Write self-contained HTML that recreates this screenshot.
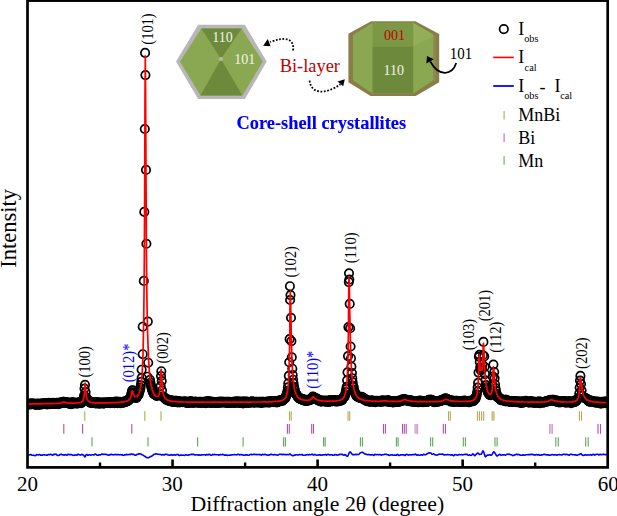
<!DOCTYPE html>
<html><head><meta charset="utf-8"><title>XRD</title>
<style>html,body{margin:0;padding:0;background:#fff}svg{display:block}text{font-family:"Liberation Serif","Times New Roman",serif}</style>
</head><body>
<svg width="617" height="516" viewBox="0 0 617 516">
<defs><marker id="m" markerUnits="userSpaceOnUse" markerWidth="12" markerHeight="12" refX="6" refY="6" viewBox="0 0 12 12"><circle cx="6" cy="6" r="4.2" fill="none" stroke="#000" stroke-width="1.7"/></marker><clipPath id="cp"><rect x="27.5" y="0" width="580.2" height="467"/></clipPath></defs>
<rect width="617" height="516" fill="#fff"/>
<!-- observed -->
<polyline clip-path="url(#cp)" points="27.7,404.0 28.1,403.8 28.6,404.1 29.0,404.3 29.4,404.1 29.9,404.4 30.3,403.9 30.7,403.3 31.2,404.1 31.6,404.2 32.0,403.7 32.5,403.7 32.9,403.8 33.3,404.3 33.8,403.9 34.2,403.6 34.7,404.5 35.1,404.1 35.5,404.7 36.0,404.4 36.4,404.7 36.8,403.9 37.3,404.4 37.7,403.7 38.1,403.7 38.6,403.9 39.0,404.9 39.4,404.0 39.9,403.8 40.3,403.7 40.7,404.5 41.2,404.0 41.6,404.2 42.0,404.1 42.5,403.3 42.9,404.1 43.4,403.8 43.8,403.3 44.2,404.0 44.7,403.8 45.1,403.7 45.5,403.7 46.0,404.3 46.4,403.7 46.8,403.1 47.3,404.4 47.7,403.3 48.1,403.6 48.6,403.9 49.0,402.7 49.4,403.3 49.9,404.2 50.3,403.6 50.8,403.4 51.2,403.7 51.6,403.3 52.1,403.6 52.5,403.3 52.9,402.9 53.4,403.9 53.8,403.5 54.2,403.7 54.7,403.5 55.1,404.0 55.5,403.8 56.0,403.6 56.4,403.1 56.8,402.9 57.3,404.0 57.7,403.7 58.1,403.1 58.6,404.2 59.0,403.5 59.5,403.3 59.9,402.6 60.3,402.8 60.8,403.2 61.2,403.1 61.6,403.0 62.1,402.0 62.5,402.7 62.9,402.4 63.4,401.8 63.8,401.9 64.2,402.0 64.7,402.6 65.1,402.3 65.5,402.7 66.0,402.1 66.4,402.5 66.9,402.9 67.3,402.6 67.7,403.1 68.2,402.6 68.6,403.1 69.0,402.8 69.5,403.7 69.9,403.0 70.3,403.9 70.8,404.1 71.2,403.3 71.6,403.6 72.1,403.1 72.5,402.1 72.9,403.5 73.4,403.4 73.8,403.0 74.2,402.9 74.7,403.2 75.1,403.2 75.6,402.8 76.0,402.8 76.4,403.5 76.9,403.1 77.3,403.0 77.7,403.4 78.2,402.8 78.6,403.2 79.0,402.4 79.5,402.6 79.9,402.6 80.3,402.8 80.8,402.4 81.2,403.1 81.6,402.4 82.1,401.4 82.5,402.0 83.0,400.0 83.4,400.1 83.8,397.5 86.9,398.2 87.3,399.5 87.7,400.3 88.2,401.3 88.6,400.8 89.0,401.8 89.5,401.9 89.9,402.4 90.4,402.5 90.8,402.9 91.2,401.9 91.7,402.6 92.1,402.1 92.5,402.6 93.0,403.0 93.4,402.9 93.8,403.0 94.3,402.8 94.7,403.0 95.1,402.9 95.6,403.4 96.0,403.2 96.4,402.1 96.9,403.2 97.3,403.3 97.7,402.7 98.2,402.2 98.6,403.5 99.1,403.0 99.5,403.2 99.9,403.7 100.4,402.5 100.8,402.9 101.2,402.8 101.7,403.2 102.1,402.7 102.5,403.1 103.0,402.9 103.4,403.4 103.8,403.4 104.3,402.2 104.7,403.1 105.1,402.7 105.6,402.8 106.0,403.0 106.5,403.0 106.9,402.5 107.3,402.9 107.8,402.8 108.2,402.8 108.6,402.2 109.1,402.4 109.5,402.6 109.9,403.0 110.4,403.3 110.8,402.3 111.2,402.3 111.7,402.7 112.1,402.4 112.5,402.3 113.0,402.3 113.4,402.2 113.8,402.8 114.3,401.9 114.7,403.1 115.2,402.2 115.6,402.3 116.0,402.1 116.5,401.6 116.9,401.8 117.3,403.0 117.8,403.2 118.2,402.0 118.6,402.8 119.1,402.3 119.5,401.9 119.9,403.0 120.4,403.2 120.8,402.1 121.2,402.1 121.7,402.2 122.1,402.0 122.6,402.4 123.0,402.6 123.4,402.0 123.9,402.3 124.3,402.5 124.7,401.4 125.2,401.6 125.6,401.3 126.0,401.8 126.5,401.5 126.9,401.5 127.3,401.3 127.8,400.6 128.2,400.8 128.6,400.0 129.1,399.6 129.5,398.3 129.9,399.2 130.4,397.2 130.8,396.3 131.3,394.4 131.7,392.7 132.1,390.5 132.6,390.3 133.0,392.2 133.4,393.7 133.9,395.1 134.3,395.3 134.7,396.3 135.2,397.6 135.6,397.0 136.0,397.6 136.5,398.0 136.9,396.5 137.3,395.3 137.8,395.3 138.2,395.2 138.7,394.2 139.1,392.2 139.5,391.3 140.0,389.8 140.4,387.9 140.8,385.3 141.3,381.8 141.7,377.8 150.0,379.9 150.4,382.7 150.8,385.1 151.3,386.5 151.7,388.5 152.1,389.9 152.6,390.3 153.0,392.2 153.4,392.9 153.9,394.2 154.3,393.2 154.8,394.0 155.2,394.4 155.6,394.9 156.1,395.4 156.5,395.6 156.9,395.9 164.8,397.6 165.2,399.0 165.6,398.8 166.1,399.5 166.5,399.1 166.9,400.1 167.4,399.7 167.8,399.5 168.2,400.5 168.7,400.8 169.1,400.5 169.5,400.7 170.0,401.3 170.4,400.7 170.9,400.1 171.3,401.2 171.7,401.3 172.2,401.7 172.6,401.2 173.0,401.9 173.5,401.9 173.9,400.9 174.3,401.9 174.8,401.0 175.2,400.9 175.6,401.5 176.1,401.4 176.5,400.8 176.9,401.8 177.4,402.0 177.8,402.4 178.3,401.8 178.7,401.1 179.1,401.4 179.6,402.3 180.0,402.2 180.4,402.1 180.9,401.8 181.3,402.0 181.7,401.8 182.2,401.8 182.6,402.1 183.0,402.0 183.5,401.9 183.9,402.0 184.3,401.8 184.8,401.2 185.2,401.7 185.6,402.0 186.1,402.8 186.5,401.9 187.0,402.9 187.4,402.7 187.8,401.7 188.3,401.8 188.7,402.1 189.1,402.9 189.6,402.3 190.0,402.4 190.4,401.8 190.9,401.1 191.3,402.0 191.7,402.5 192.2,402.7 192.6,402.2 193.0,402.2 193.5,402.7 193.9,402.1 194.4,402.7 194.8,401.7 195.2,401.7 195.7,401.7 196.1,402.4 196.5,401.9 197.0,402.2 197.4,402.3 197.8,402.3 198.3,402.8 198.7,402.8 199.1,401.8 199.6,402.3 200.0,402.1 200.4,401.7 200.9,403.0 201.3,402.5 201.7,402.1 202.2,402.0 202.6,402.4 203.1,401.7 203.5,402.1 203.9,402.7 204.4,402.6 204.8,401.8 205.2,402.0 205.7,403.1 206.1,401.6 206.5,401.9 207.0,401.6 207.4,402.4 207.8,402.3 208.3,402.7 208.7,401.1 209.1,402.3 209.6,401.5 210.0,402.5 210.5,402.1 210.9,403.0 211.3,402.4 211.8,401.8 212.2,402.8 212.6,401.7 213.1,402.0 213.5,402.7 213.9,402.4 214.4,402.4 214.8,402.2 215.2,402.4 215.7,402.6 216.1,402.3 216.5,402.7 217.0,402.8 217.4,402.2 217.8,401.8 218.3,402.9 218.7,402.2 219.2,402.5 219.6,402.6 220.0,401.8 220.5,402.4 220.9,401.5 221.3,402.5 221.8,402.0 222.2,402.3 222.6,402.5 223.1,401.9 223.5,402.2 223.9,401.9 224.4,402.2 224.8,402.7 225.2,402.2 225.7,402.2 226.1,401.7 226.6,402.6 227.0,402.2 227.4,402.9 227.9,401.9 228.3,402.7 228.7,403.0 229.2,402.2 229.6,401.7 230.0,402.8 230.5,402.6 230.9,402.5 231.3,402.7 231.8,402.0 232.2,402.5 232.6,402.5 233.1,401.9 233.5,402.5 233.9,402.0 234.4,402.6 234.8,402.7 235.3,403.0 235.7,401.3 236.1,402.3 236.6,402.0 237.0,402.1 237.4,402.1 237.9,402.1 238.3,401.3 238.7,402.6 239.2,402.8 239.6,402.6 240.0,402.7 240.5,401.8 240.9,401.7 241.3,402.5 241.8,402.7 242.2,402.3 242.7,401.5 243.1,403.4 243.5,401.9 244.0,402.6 244.4,401.6 244.8,402.6 245.3,402.2 245.7,402.8 246.1,402.5 246.6,401.5 247.0,401.7 247.4,402.3 247.9,402.5 248.3,402.9 248.7,402.2 249.2,402.1 249.6,402.1 250.1,402.1 250.5,402.6 250.9,402.1 251.4,402.1 251.8,401.5 252.2,401.2 252.7,402.1 253.1,402.4 253.5,402.1 254.0,402.3 254.4,402.4 254.8,402.1 255.3,402.5 255.7,401.7 256.1,402.1 256.6,401.9 257.0,402.1 257.4,402.3 257.9,402.4 258.3,402.1 258.8,402.2 259.2,401.9 259.6,402.0 260.1,402.6 260.5,401.9 260.9,402.6 261.4,402.2 261.8,402.1 262.2,402.9 262.7,401.9 263.1,401.9 263.5,402.0 264.0,402.1 264.4,402.1 264.8,402.3 265.3,402.0 265.7,402.1 266.2,401.8 266.6,402.4 267.0,401.8 267.5,401.8 267.9,401.9 268.3,402.0 268.8,401.6 269.2,402.6 269.6,401.6 270.1,401.7 270.5,401.6 270.9,401.6 271.4,402.0 271.8,401.8 272.2,401.4 272.7,401.5 273.1,401.6 273.5,402.3 274.0,401.4 274.4,401.1 274.9,401.1 275.3,401.4 275.7,402.2 276.2,401.1 276.6,401.5 277.0,402.5 277.5,401.2 277.9,402.0 278.3,401.8 278.8,401.5 279.2,400.5 279.6,401.2 280.1,400.8 280.5,400.1 280.9,400.0 281.4,400.7 281.8,400.6 282.3,400.9 282.7,400.4 283.1,399.7 283.6,399.5 284.0,399.3 284.4,398.5 284.9,398.8 285.3,397.9 285.7,396.8 286.2,395.9 286.6,394.4 287.0,393.0 287.5,391.0 287.9,387.4 288.3,383.2 288.8,375.9 289.2,362.3 289.6,339.1 290.1,300.0 290.5,295.1 291.0,317.8 291.4,341.1 291.8,357.3 292.3,368.7 292.7,375.1 293.1,379.7 293.6,383.6 294.0,386.9 294.4,388.8 294.9,390.3 295.3,393.4 295.7,393.4 296.2,394.1 296.6,394.9 297.0,395.2 297.5,396.1 297.9,397.0 298.4,397.4 298.8,397.6 299.2,398.5 299.7,398.6 300.1,398.4 300.5,398.2 301.0,399.3 301.4,399.4 301.8,399.5 302.3,399.1 302.7,399.8 303.1,399.3 303.6,400.5 304.0,400.2 304.4,400.3 304.9,399.9 305.3,399.8 305.7,401.0 306.2,400.7 306.6,400.2 307.1,400.6 307.5,401.0 307.9,399.8 308.4,400.0 308.8,399.9 309.2,400.3 309.7,399.5 310.1,399.9 310.5,399.0 311.0,399.6 311.4,399.2 311.8,398.1 312.3,397.8 312.7,396.6 313.1,396.7 313.6,397.4 314.0,397.4 314.5,398.0 314.9,397.8 315.3,398.9 315.8,399.2 316.2,398.7 316.6,398.5 317.1,398.9 317.5,399.9 317.9,400.0 318.4,399.5 318.8,400.4 319.2,400.9 319.7,400.5 320.1,400.4 320.5,401.1 321.0,401.5 321.4,401.4 321.8,400.6 322.3,401.2 322.7,401.0 323.2,400.9 323.6,400.7 324.0,401.2 324.5,400.8 324.9,401.5 325.3,401.3 325.8,401.6 326.2,400.6 326.6,401.2 327.1,401.5 327.5,401.3 327.9,401.3 328.4,400.9 328.8,401.9 329.2,401.7 329.7,401.4 330.1,400.1 330.6,400.8 331.0,401.2 331.4,400.9 331.9,400.2 332.3,401.3 332.7,401.3 333.2,400.6 333.6,400.9 334.0,400.8 334.5,401.3 334.9,400.2 335.3,400.2 335.8,400.7 336.2,400.6 336.6,401.8 337.1,400.5 337.5,400.8 338.0,400.5 338.4,400.3 338.8,400.7 339.3,401.2 339.7,400.1 340.1,400.5 340.6,400.1 341.0,400.1 341.4,399.8 341.9,400.4 342.3,398.5 342.7,398.6 343.2,397.7 343.6,396.8 344.0,397.0 344.5,397.0 344.9,395.4 345.3,394.2 345.8,392.0 346.2,389.3 346.7,386.8 347.1,380.3 347.5,372.3 348.0,356.1 348.4,327.1 348.8,282.1 349.3,279.5 349.7,303.9 350.1,328.3 350.6,346.5 351.0,358.3 351.4,366.5 351.9,373.1 352.3,378.3 352.7,382.3 353.2,385.8 353.6,387.1 354.1,389.6 354.5,391.2 354.9,392.5 355.4,393.4 355.8,394.5 356.2,395.1 356.7,396.2 357.1,396.4 357.5,395.6 358.0,397.0 358.4,397.3 358.8,397.1 359.3,397.1 359.7,397.9 360.1,397.5 360.6,397.0 361.0,397.3 361.4,397.4 361.9,396.9 362.3,398.0 362.8,397.9 363.2,398.5 363.6,397.9 364.1,399.7 364.5,399.5 364.9,399.7 365.4,399.5 365.8,399.8 366.2,399.6 366.7,401.1 367.1,400.2 367.5,400.8 368.0,401.0 368.4,400.5 368.8,401.2 369.3,401.8 369.7,401.1 370.2,401.6 370.6,401.3 371.0,400.9 371.5,400.9 371.9,400.4 372.3,401.2 372.8,401.8 373.2,401.5 373.6,401.6 374.1,401.7 374.5,401.0 374.9,401.5 375.4,402.1 375.8,400.9 376.2,401.3 376.7,401.1 377.1,401.2 377.5,401.0 378.0,401.3 378.4,400.7 378.9,401.1 379.3,401.1 379.7,401.1 380.2,401.9 380.6,401.3 381.0,401.3 381.5,401.0 381.9,401.6 382.3,400.2 382.8,400.8 383.2,401.3 383.6,401.5 384.1,400.9 384.5,400.8 384.9,401.2 385.4,400.9 385.8,401.3 386.3,400.8 386.7,401.4 387.1,401.2 387.6,400.8 388.0,400.1 388.4,401.7 388.9,401.5 389.3,401.7 389.7,401.0 390.2,401.9 390.6,401.6 391.0,401.4 391.5,401.8 391.9,401.9 392.3,401.6 392.8,402.4 393.2,402.1 393.6,401.6 394.1,401.4 394.5,401.5 395.0,402.2 395.4,401.7 395.8,401.1 396.3,401.2 396.7,401.5 397.1,401.8 397.6,401.1 398.0,401.6 398.4,401.9 398.9,401.7 399.3,400.6 399.7,401.1 400.2,400.6 400.6,401.3 401.0,400.6 401.5,401.2 401.9,400.8 402.4,399.4 402.8,400.0 403.2,400.3 403.7,399.8 404.1,399.4 404.5,399.0 405.0,399.9 405.4,400.5 405.8,400.0 406.3,400.0 406.7,400.2 407.1,399.8 407.6,400.4 408.0,400.3 408.4,401.2 408.9,400.4 409.3,400.0 409.8,400.6 410.2,400.9 410.6,401.0 411.1,400.4 411.5,401.6 411.9,401.3 412.4,401.1 412.8,401.0 413.2,401.6 413.7,401.2 414.1,401.5 414.5,401.4 415.0,401.5 415.4,402.0 415.8,401.5 416.3,401.1 416.7,402.0 417.1,401.7 417.6,401.3 418.0,402.1 418.5,401.5 418.9,402.1 419.3,401.1 419.8,400.6 420.2,400.7 420.6,401.7 421.1,401.3 421.5,401.6 421.9,401.6 422.4,401.0 422.8,402.3 423.2,401.2 423.7,401.7 424.1,401.1 424.5,401.6 425.0,402.0 425.4,401.5 425.9,401.3 426.3,401.5 426.7,401.2 427.2,401.4 427.6,402.0 428.0,400.3 428.5,400.2 428.9,400.2 429.3,400.0 429.8,399.5 430.2,400.1 430.6,400.4 431.1,400.3 431.5,399.9 431.9,401.3 432.4,400.4 432.8,401.5 433.2,401.8 433.7,400.9 434.1,401.6 434.6,402.2 435.0,401.8 435.4,401.2 435.9,401.1 436.3,401.8 436.7,401.4 437.2,401.2 437.6,401.7 438.0,401.2 438.5,401.3 438.9,401.4 439.3,401.2 439.8,400.9 440.2,400.8 440.6,400.9 441.1,400.8 441.5,400.0 442.0,400.4 442.4,400.0 442.8,399.8 443.3,400.0 443.7,399.1 444.1,400.3 444.6,399.3 445.0,399.5 445.4,398.4 445.9,398.5 446.3,400.2 446.7,399.9 447.2,399.3 447.6,399.4 448.0,399.6 448.5,400.1 448.9,400.0 449.3,400.1 449.8,400.5 450.2,400.2 450.7,401.7 451.1,400.5 451.5,401.3 452.0,400.5 452.4,401.1 452.8,401.5 453.3,400.9 453.7,401.6 454.1,401.6 454.6,401.9 455.0,401.3 455.4,401.1 455.9,400.9 456.3,401.4 456.7,400.9 457.2,401.4 457.6,401.5 458.1,401.2 458.5,401.0 458.9,401.6 459.4,401.6 459.8,401.5 460.2,401.4 460.7,401.9 461.1,401.0 461.5,401.7 462.0,401.3 462.4,401.9 462.8,401.3 463.3,401.3 463.7,401.7 464.1,400.6 464.6,401.3 465.0,400.7 465.4,401.0 465.9,401.7 466.3,401.6 466.8,401.2 467.2,401.3 467.6,401.3 468.1,401.4 468.5,402.1 468.9,401.3 469.4,402.2 469.8,400.9 470.2,401.4 470.7,401.3 471.1,401.0 471.5,400.7 472.0,401.3 472.4,401.3 472.8,400.9 473.3,401.1 473.7,400.4 474.2,398.9 474.6,399.8 475.0,398.5 475.5,398.8 475.9,397.2 476.3,396.3 476.8,394.4 477.2,391.7 477.6,387.6 478.1,382.8 478.5,372.6 478.9,356.8 479.4,354.9 479.8,361.9 480.2,367.4 480.7,370.3 481.1,368.4 481.6,369.9 482.0,368.5 482.4,364.5 482.9,355.2 484.2,356.4 484.6,366.8 485.0,374.1 485.5,380.3 485.9,385.0 486.3,387.4 486.8,388.9 487.2,389.6 487.6,391.6 488.1,392.6 488.5,392.7 488.9,393.4 489.4,394.4 489.8,395.0 490.3,395.2 490.7,394.6 491.1,394.6 491.6,392.0 492.0,390.3 492.4,385.5 492.9,376.5 494.2,372.0 494.6,378.2 495.0,384.2 495.5,388.2 495.9,390.9 496.3,393.8 496.8,394.1 497.2,397.0 497.7,397.1 498.1,397.3 498.5,397.6 499.0,397.8 499.4,398.1 499.8,398.6 500.3,398.3 500.7,400.1 501.1,399.4 501.6,399.9 502.0,399.7 502.4,399.8 502.9,400.5 503.3,400.5 503.7,400.0 504.2,400.3 504.6,400.9 505.0,399.7 505.5,399.7 505.9,401.5 506.4,400.8 506.8,399.8 507.2,400.7 507.7,401.0 508.1,401.2 508.5,401.4 509.0,401.3 509.4,401.5 509.8,401.0 510.3,401.5 510.7,401.6 511.1,402.0 511.6,401.5 512.0,401.9 512.4,401.6 512.9,401.1 513.3,401.4 513.8,401.4 514.2,401.5 514.6,401.6 515.1,401.7 515.5,401.8 515.9,401.4 516.4,402.2 516.8,401.2 517.2,401.8 517.7,402.1 518.1,402.0 518.5,402.1 519.0,401.8 519.4,402.2 519.8,401.4 520.3,402.2 520.7,402.9 521.1,402.2 521.6,402.8 522.0,401.9 522.5,401.5 522.9,401.7 523.3,402.6 523.8,402.3 524.2,401.2 524.6,401.8 525.1,402.0 525.5,401.5 525.9,400.9 526.4,401.4 526.8,402.0 527.2,401.9 527.7,401.8 528.1,402.3 528.5,402.5 529.0,402.0 529.4,402.5 529.9,402.1 530.3,402.0 530.7,401.0 531.2,402.5 531.6,402.2 532.0,402.2 532.5,401.9 532.9,401.6 533.3,402.3 533.8,402.5 534.2,402.9 534.6,402.5 535.1,401.9 535.5,402.1 535.9,402.6 536.4,402.3 536.8,402.1 537.2,401.9 537.7,402.4 538.1,402.2 538.6,402.9 539.0,402.6 539.4,401.4 539.9,403.1 540.3,402.2 540.7,402.0 541.2,402.2 541.6,402.4 542.0,402.1 542.5,402.0 542.9,402.1 543.3,402.8 543.8,402.0 544.2,402.3 544.6,402.2 545.1,401.8 545.5,401.5 546.0,401.4 546.4,401.9 546.8,401.2 547.3,401.0 547.7,400.9 548.1,400.7 548.6,401.2 549.0,401.0 549.4,400.3 549.9,400.9 550.3,399.9 550.7,400.1 551.2,400.0 551.6,400.6 552.0,400.3 552.5,400.1 552.9,399.8 553.3,399.9 553.8,400.5 554.2,400.7 554.7,401.1 555.1,400.7 555.5,401.1 556.0,400.8 556.4,400.4 556.8,401.3 557.3,402.0 557.7,401.8 558.1,402.2 558.6,402.1 559.0,401.0 559.4,401.6 559.9,402.4 560.3,401.5 560.7,401.2 561.2,402.0 561.6,402.1 562.1,402.0 562.5,401.8 562.9,401.6 563.4,401.4 563.8,401.4 564.2,401.4 564.7,401.4 565.1,401.7 565.5,402.7 566.0,402.1 566.4,401.9 566.8,402.2 567.3,401.6 567.7,402.2 568.1,402.5 568.6,401.4 569.0,401.7 569.5,401.9 569.9,401.6 570.3,401.5 570.8,401.8 571.2,403.1 571.6,402.2 572.1,402.1 572.5,402.3 572.9,401.7 573.4,401.2 573.8,401.9 574.2,402.1 574.7,400.5 575.1,401.5 575.5,401.6 576.0,400.7 576.4,400.3 576.8,400.4 577.3,399.2 577.7,399.0 578.2,398.1 584.7,397.7 585.1,398.2 585.6,398.2 586.0,398.6 586.4,398.6 586.9,399.4 587.3,399.4 587.7,399.5 588.2,400.3 588.6,401.2 589.0,401.3 589.5,401.6 589.9,400.3 590.3,401.6 590.8,400.7 591.2,401.1 591.6,400.7 592.1,401.1 592.5,401.7 592.9,401.8 593.4,401.8 593.8,401.8 594.3,402.2 594.7,402.0 595.1,401.3 595.6,402.8 596.0,402.0 596.4,402.5 596.9,402.1 597.3,401.8 597.7,402.3 598.2,401.9 598.6,403.0 599.0,401.8 599.5,402.6 599.9,402.1 600.3,402.3 600.8,403.6 601.2,402.8 601.7,402.4 602.1,401.8 602.5,402.4 603.0,402.4 603.4,403.2 603.8,401.9 604.3,401.8 604.7,402.6 605.1,402.7 605.6,403.3 606.0,402.2 606.4,401.4 606.9,402.3 607.3,402.1 141.6,369.7 142.7,354.2 142.7,326.7 143.8,280.9 144.3,211.9 144.8,129.0 145.1,52.9 145.4,75.1 146.0,169.9 146.4,243.8 147.8,321.6 148.2,362.7 147.4,376.7 289.9,286.2 349.0,273.3 483.4,341.9 493.4,364.6 85.0,384.8 84.5,388.5 85.6,392.0 84.1,395.5 86.1,397.4 161.3,371.2 161.0,376.0 161.7,381.0 160.7,386.0 162.0,390.5 160.4,394.3 162.4,396.6 580.4,375.9 580.0,380.5 581.0,384.0 579.7,387.5 581.6,390.6 579.3,393.6 582.3,395.8" fill="none" stroke="none" marker-start="url(#m)" marker-mid="url(#m)" marker-end="url(#m)"/>
<!-- calculated -->
<polyline points="27.5,404.0 27.8,403.9 28.1,403.9 28.4,403.9 28.7,403.9 29.0,403.9 29.2,403.9 29.5,403.9 29.8,403.9 30.1,403.9 30.4,403.9 30.7,403.9 31.0,403.9 31.3,403.9 31.6,403.9 31.9,403.9 32.1,403.9 32.4,403.9 32.7,403.9 33.0,403.9 33.3,403.9 33.6,403.9 33.9,403.9 34.2,403.9 34.5,403.9 34.8,403.9 35.0,403.9 35.3,403.9 35.6,403.8 35.9,403.8 36.2,403.8 36.5,403.8 36.8,403.8 37.1,403.8 37.4,403.8 37.7,403.8 37.9,403.8 38.2,403.8 38.5,403.8 38.8,403.8 39.1,403.8 39.4,403.8 39.7,403.8 40.0,403.8 40.3,403.8 40.6,403.8 40.8,403.8 41.1,403.8 41.4,403.8 41.7,403.8 42.0,403.8 42.3,403.8 42.6,403.8 42.9,403.7 43.2,403.7 43.5,403.7 43.7,403.7 44.0,403.7 44.3,403.7 44.6,403.7 44.9,403.7 45.2,403.7 45.5,403.7 45.8,403.7 46.1,403.7 46.4,403.7 46.6,403.7 46.9,403.7 47.2,403.7 47.5,403.7 47.8,403.7 48.1,403.7 48.4,403.7 48.7,403.7 49.0,403.7 49.3,403.6 49.5,403.6 49.8,403.6 50.1,403.6 50.4,403.6 50.7,403.6 51.0,403.6 51.3,403.6 51.6,403.6 51.9,403.6 52.2,403.6 52.4,403.6 52.7,403.6 53.0,403.6 53.3,403.6 53.6,403.6 53.9,403.5 54.2,403.5 54.5,403.5 54.8,403.5 55.1,403.5 55.3,403.5 55.6,403.5 55.9,403.5 56.2,403.5 56.5,403.5 56.8,403.4 57.1,403.4 57.4,403.4 57.7,403.4 58.0,403.4 58.3,403.4 58.5,403.3 58.8,403.3 59.1,403.3 59.4,403.3 59.7,403.2 60.0,403.2 60.3,403.1 60.6,403.1 60.9,403.0 61.2,403.0 61.4,402.9 61.7,402.8 62.0,402.7 62.3,402.6 62.6,402.4 62.9,402.3 63.2,402.1 63.5,402.0 63.8,401.9 64.1,401.9 64.3,402.0 64.6,402.1 64.9,402.2 65.2,402.4 65.5,402.5 65.8,402.6 66.1,402.7 66.4,402.8 66.7,402.8 67.0,402.9 67.2,402.9 67.5,403.0 67.8,403.0 68.1,403.0 68.4,403.0 68.7,403.1 69.0,403.1 69.3,403.1 69.6,403.1 69.9,403.1 70.1,403.1 70.4,403.1 70.7,403.1 71.0,403.2 71.3,403.2 71.6,403.2 71.9,403.2 72.2,403.2 72.5,403.2 72.8,403.2 73.0,403.2 73.3,403.1 73.6,403.1 73.9,403.1 74.2,403.1 74.5,403.1 74.8,403.1 75.1,403.1 75.4,403.1 75.7,403.1 75.9,403.1 76.2,403.1 76.5,403.0 76.8,403.0 77.1,403.0 77.4,403.0 77.7,403.0 78.0,402.9 78.3,402.9 78.6,402.9 78.8,402.8 79.1,402.8 79.4,402.7 79.7,402.7 80.0,402.6 80.3,402.5 80.6,402.4 80.9,402.3 81.2,402.2 81.5,402.0 81.7,401.8 82.0,401.6 82.3,401.3 82.6,400.9 82.9,400.5 83.2,399.8 83.5,399.0 83.8,397.8 84.1,396.0 84.4,393.3 84.6,389.0 84.9,383.9 85.2,383.2 85.5,386.9 85.8,391.0 86.1,394.0 86.4,396.0 86.7,397.5 87.0,398.5 87.3,399.3 87.6,399.9 87.8,400.4 88.1,400.8 88.4,401.1 88.7,401.4 89.0,401.6 89.3,401.8 89.6,401.9 89.9,402.0 90.2,402.1 90.5,402.2 90.7,402.3 91.0,402.4 91.3,402.4 91.6,402.5 91.9,402.5 92.2,402.6 92.5,402.6 92.8,402.6 93.1,402.7 93.4,402.7 93.6,402.7 93.9,402.7 94.2,402.8 94.5,402.8 94.8,402.8 95.1,402.8 95.4,402.8 95.7,402.8 96.0,402.8 96.3,402.8 96.5,402.8 96.8,402.9 97.1,402.9 97.4,402.9 97.7,402.9 98.0,402.9 98.3,402.9 98.6,402.9 98.9,402.9 99.2,402.9 99.4,402.9 99.7,402.9 100.0,402.9 100.3,402.9 100.6,402.9 100.9,402.9 101.2,402.9 101.5,402.9 101.8,402.9 102.1,402.9 102.3,402.9 102.6,402.9 102.9,402.9 103.2,402.9 103.5,402.9 103.8,402.8 104.1,402.8 104.4,402.8 104.7,402.8 105.0,402.8 105.2,402.8 105.5,402.8 105.8,402.8 106.1,402.8 106.4,402.8 106.7,402.8 107.0,402.8 107.3,402.8 107.6,402.8 107.9,402.8 108.1,402.8 108.4,402.8 108.7,402.8 109.0,402.8 109.3,402.7 109.6,402.7 109.9,402.7 110.2,402.7 110.5,402.7 110.8,402.7 111.0,402.7 111.3,402.7 111.6,402.7 111.9,402.7 112.2,402.7 112.5,402.7 112.8,402.6 113.1,402.6 113.4,402.6 113.7,402.6 113.9,402.6 114.2,402.6 114.5,402.6 114.8,402.6 115.1,402.6 115.4,402.5 115.7,402.5 116.0,402.5 116.3,402.5 116.6,402.5 116.9,402.5 117.1,402.5 117.4,402.4 117.7,402.4 118.0,402.4 118.3,402.4 118.6,402.4 118.9,402.3 119.2,402.3 119.5,402.3 119.8,402.3 120.0,402.3 120.3,402.2 120.6,402.2 120.9,402.2 121.2,402.2 121.5,402.1 121.8,402.1 122.1,402.1 122.4,402.0 122.7,402.0 122.9,402.0 123.2,401.9 123.5,401.9 123.8,401.8 124.1,401.8 124.4,401.7 124.7,401.7 125.0,401.6 125.3,401.6 125.6,401.5 125.8,401.4 126.1,401.3 126.4,401.2 126.7,401.1 127.0,401.0 127.3,400.9 127.6,400.8 127.9,400.6 128.2,400.5 128.5,400.3 128.7,400.0 129.0,399.8 129.3,399.5 129.6,399.2 129.9,398.7 130.2,398.2 130.5,397.6 130.8,396.8 131.1,395.8 131.4,394.4 131.6,392.9 131.9,391.4 132.2,390.8 132.5,391.1 132.8,392.0 133.1,393.0 133.4,393.9 133.7,394.7 134.0,395.4 134.3,395.9 134.5,396.2 134.8,396.5 135.1,396.6 135.4,396.7 135.7,396.8 136.0,396.7 136.3,396.7 136.6,396.6 136.9,396.4 137.2,396.2 137.4,395.9 137.7,395.6 138.0,395.2 138.3,394.7 138.6,394.2 138.9,393.6 139.2,392.9 139.5,392.1 139.8,391.1 140.1,390.0 140.3,388.7 140.6,387.2 140.9,385.3 141.2,383.2 141.5,380.6 141.8,377.4 142.1,373.5 142.4,368.6 142.7,362.5 143.0,354.8 143.2,344.7 143.5,331.2 143.8,312.7 144.1,286.2 144.4,246.0 144.7,183.2 145.0,98.5 145.3,55.8 145.6,91.7 145.9,154.6 146.2,210.4 146.4,251.5 146.7,281.1 147.0,302.8 147.3,319.2 147.6,331.9 147.9,342.0 148.2,350.2 148.5,356.9 148.8,362.4 149.1,367.1 149.3,371.0 149.6,374.3 149.9,377.1 150.2,379.6 150.5,381.7 150.8,383.5 151.1,385.2 151.4,386.6 151.7,387.8 152.0,388.9 152.2,389.9 152.5,390.8 152.8,391.5 153.1,392.2 153.4,392.9 153.7,393.4 154.0,393.9 154.3,394.4 154.6,394.8 154.9,395.1 155.1,395.4 155.4,395.7 155.7,395.9 156.0,396.1 156.3,396.3 156.6,396.4 156.9,396.5 157.2,396.5 157.5,396.4 157.8,396.3 158.0,396.2 158.3,395.9 158.6,395.5 158.9,394.9 159.2,394.1 159.5,392.9 159.8,391.2 160.1,388.6 160.4,384.5 160.7,377.9 160.9,370.2 161.2,369.3 161.5,374.2 161.8,380.1 162.1,384.8 162.4,388.1 162.7,390.6 163.0,392.4 163.3,393.8 163.6,394.9 163.8,395.7 164.1,396.5 164.4,397.1 164.7,397.6 165.0,398.0 165.3,398.4 165.6,398.7 165.9,399.0 166.2,399.2 166.5,399.4 166.7,399.6 167.0,399.8 167.3,400.0 167.6,400.1 167.9,400.2 168.2,400.3 168.5,400.4 168.8,400.5 169.1,400.6 169.4,400.7 169.6,400.8 169.9,400.8 170.2,400.9 170.5,401.0 170.8,401.0 171.1,401.1 171.4,401.1 171.7,401.2 172.0,401.2 172.3,401.3 172.5,401.3 172.8,401.3 173.1,401.4 173.4,401.4 173.7,401.4 174.0,401.5 174.3,401.5 174.6,401.5 174.9,401.5 175.2,401.6 175.5,401.6 175.7,401.6 176.0,401.6 176.3,401.7 176.6,401.7 176.9,401.7 177.2,401.7 177.5,401.7 177.8,401.7 178.1,401.8 178.4,401.8 178.6,401.8 178.9,401.8 179.2,401.8 179.5,401.8 179.8,401.8 180.1,401.9 180.4,401.9 180.7,401.9 181.0,401.9 181.3,401.9 181.5,401.9 181.8,401.9 182.1,401.9 182.4,401.9 182.7,401.9 183.0,402.0 183.3,402.0 183.6,402.0 183.9,402.0 184.2,402.0 184.4,402.0 184.7,402.0 185.0,402.0 185.3,402.0 185.6,402.0 185.9,402.0 186.2,402.0 186.5,402.0 186.8,402.0 187.1,402.1 187.3,402.1 187.6,402.1 187.9,402.1 188.2,402.1 188.5,402.1 188.8,402.1 189.1,402.1 189.4,402.1 189.7,402.1 190.0,402.1 190.2,402.1 190.5,402.1 190.8,402.1 191.1,402.1 191.4,402.1 191.7,402.1 192.0,402.1 192.3,402.1 192.6,402.1 192.9,402.1 193.1,402.1 193.4,402.1 193.7,402.1 194.0,402.1 194.3,402.1 194.6,402.1 194.9,402.2 195.2,402.2 195.5,402.2 195.8,402.2 196.0,402.2 196.3,402.2 196.6,402.2 196.9,402.2 197.2,402.2 197.5,402.2 197.8,402.2 198.1,402.2 198.4,402.2 198.7,402.2 198.9,402.2 199.2,402.2 199.5,402.2 199.8,402.2 200.1,402.2 200.4,402.2 200.7,402.2 201.0,402.2 201.3,402.2 201.6,402.2 201.9,402.2 202.1,402.2 202.4,402.2 202.7,402.2 203.0,402.2 203.3,402.2 203.6,402.2 203.9,402.2 204.2,402.2 204.5,402.2 204.8,402.2 205.0,402.2 205.3,402.2 205.6,402.2 205.9,402.2 206.2,402.2 206.5,402.2 206.8,402.2 207.1,402.2 207.4,402.2 207.7,402.2 207.9,402.2 208.2,402.2 208.5,402.2 208.8,402.2 209.1,402.2 209.4,402.2 209.7,402.2 210.0,402.2 210.3,402.2 210.6,402.2 210.8,402.2 211.1,402.2 211.4,402.2 211.7,402.2 212.0,402.2 212.3,402.2 212.6,402.2 212.9,402.2 213.2,402.2 213.5,402.2 213.7,402.2 214.0,402.2 214.3,402.2 214.6,402.2 214.9,402.2 215.2,402.2 215.5,402.2 215.8,402.2 216.1,402.2 216.4,402.2 216.6,402.2 216.9,402.2 217.2,402.2 217.5,402.2 217.8,402.2 218.1,402.2 218.4,402.2 218.7,402.2 219.0,402.2 219.3,402.2 219.5,402.2 219.8,402.2 220.1,402.2 220.4,402.2 220.7,402.2 221.0,402.2 221.3,402.2 221.6,402.2 221.9,402.2 222.2,402.2 222.4,402.2 222.7,402.2 223.0,402.2 223.3,402.2 223.6,402.2 223.9,402.2 224.2,402.2 224.5,402.2 224.8,402.2 225.1,402.2 225.3,402.2 225.6,402.2 225.9,402.2 226.2,402.2 226.5,402.2 226.8,402.2 227.1,402.2 227.4,402.2 227.7,402.2 228.0,402.2 228.2,402.2 228.5,402.2 228.8,402.2 229.1,402.2 229.4,402.2 229.7,402.2 230.0,402.2 230.3,402.2 230.6,402.2 230.9,402.2 231.2,402.2 231.4,402.2 231.7,402.2 232.0,402.2 232.3,402.2 232.6,402.2 232.9,402.1 233.2,402.1 233.5,402.1 233.8,402.1 234.1,402.1 234.3,402.1 234.6,402.1 234.9,402.1 235.2,402.1 235.5,402.1 235.8,402.1 236.1,402.1 236.4,402.1 236.7,402.1 237.0,402.1 237.2,402.1 237.5,402.1 237.8,402.1 238.1,402.1 238.4,402.1 238.7,402.1 239.0,402.1 239.3,402.1 239.6,402.1 239.9,402.1 240.1,402.1 240.4,402.1 240.7,402.1 241.0,402.1 241.3,402.1 241.6,402.1 241.9,402.1 242.2,402.1 242.5,402.1 242.8,402.1 243.0,402.1 243.3,402.1 243.6,402.1 243.9,402.1 244.2,402.1 244.5,402.1 244.8,402.1 245.1,402.1 245.4,402.1 245.7,402.1 245.9,402.1 246.2,402.1 246.5,402.1 246.8,402.1 247.1,402.1 247.4,402.1 247.7,402.1 248.0,402.1 248.3,402.1 248.6,402.1 248.8,402.1 249.1,402.1 249.4,402.1 249.7,402.1 250.0,402.1 250.3,402.1 250.6,402.1 250.9,402.1 251.2,402.1 251.5,402.1 251.7,402.1 252.0,402.0 252.3,402.0 252.6,402.0 252.9,402.0 253.2,402.0 253.5,402.0 253.8,402.0 254.1,402.0 254.4,402.0 254.6,402.0 254.9,402.0 255.2,402.0 255.5,402.0 255.8,402.0 256.1,402.0 256.4,402.0 256.7,402.0 257.0,402.0 257.3,402.0 257.5,402.0 257.8,402.0 258.1,402.0 258.4,402.0 258.7,402.0 259.0,402.0 259.3,402.0 259.6,402.0 259.9,402.0 260.2,402.0 260.5,402.0 260.7,402.0 261.0,402.0 261.3,402.0 261.6,402.0 261.9,402.0 262.2,401.9 262.5,401.9 262.8,401.9 263.1,401.9 263.4,401.9 263.6,401.9 263.9,401.9 264.2,401.9 264.5,401.9 264.8,401.9 265.1,401.9 265.4,401.9 265.7,401.9 266.0,401.9 266.3,401.9 266.5,401.9 266.8,401.9 267.1,401.9 267.4,401.9 267.7,401.9 268.0,401.8 268.3,401.8 268.6,401.8 268.9,401.8 269.2,401.8 269.4,401.8 269.7,401.8 270.0,401.8 270.3,401.8 270.6,401.8 270.9,401.8 271.2,401.8 271.5,401.7 271.8,401.7 272.1,401.7 272.3,401.7 272.6,401.7 272.9,401.7 273.2,401.7 273.5,401.7 273.8,401.6 274.1,401.6 274.4,401.6 274.7,401.6 275.0,401.6 275.2,401.5 275.5,401.5 275.8,401.5 276.1,401.5 276.4,401.5 276.7,401.4 277.0,401.4 277.3,401.4 277.6,401.3 277.9,401.3 278.1,401.3 278.4,401.2 278.7,401.2 279.0,401.2 279.3,401.1 279.6,401.1 279.9,401.0 280.2,400.9 280.5,400.9 280.8,400.8 281.0,400.7 281.3,400.6 281.6,400.6 281.9,400.5 282.2,400.3 282.5,400.2 282.8,400.1 283.1,399.9 283.4,399.8 283.7,399.6 283.9,399.3 284.2,399.1 284.5,398.8 284.8,398.5 285.1,398.1 285.4,397.7 285.7,397.2 286.0,396.6 286.3,395.9 286.6,395.0 286.8,394.0 287.1,392.8 287.4,391.2 287.7,389.3 288.0,386.8 288.3,383.5 288.6,379.2 288.9,373.3 289.2,364.8 289.5,351.9 289.8,331.8 290.0,304.7 290.3,291.0 290.6,299.3 290.9,315.4 291.2,331.7 291.5,344.9 291.8,355.1 292.1,362.8 292.4,368.8 292.7,373.5 292.9,377.3 293.2,380.4 293.5,382.9 293.8,385.1 294.1,386.9 294.4,388.5 294.7,389.8 295.0,391.0 295.3,392.0 295.6,392.8 295.8,393.6 296.1,394.3 296.4,394.9 296.7,395.4 297.0,395.9 297.3,396.3 297.6,396.7 297.9,397.1 298.2,397.4 298.5,397.7 298.7,397.9 299.0,398.1 299.3,398.4 299.6,398.5 299.9,398.7 300.2,398.9 300.5,399.0 300.8,399.2 301.1,399.3 301.4,399.4 301.6,399.5 301.9,399.6 302.2,399.7 302.5,399.8 302.8,399.9 303.1,399.9 303.4,400.0 303.7,400.0 304.0,400.1 304.3,400.1 304.5,400.2 304.8,400.2 305.1,400.2 305.4,400.3 305.7,400.3 306.0,400.3 306.3,400.3 306.6,400.3 306.9,400.3 307.2,400.3 307.4,400.3 307.7,400.3 308.0,400.3 308.3,400.2 308.6,400.2 308.9,400.1 309.2,400.1 309.5,400.0 309.8,399.9 310.1,399.8 310.3,399.6 310.6,399.5 310.9,399.2 311.2,399.0 311.5,398.7 311.8,398.3 312.1,397.8 312.4,397.4 312.7,397.0 313.0,396.8 313.2,396.9 313.5,397.0 313.8,397.2 314.1,397.5 314.4,397.8 314.7,398.1 315.0,398.4 315.3,398.6 315.6,398.9 315.9,399.1 316.1,399.3 316.4,399.4 316.7,399.6 317.0,399.7 317.3,399.9 317.6,400.0 317.9,400.1 318.2,400.2 318.5,400.2 318.8,400.3 319.1,400.4 319.3,400.5 319.6,400.5 319.9,400.6 320.2,400.6 320.5,400.7 320.8,400.7 321.1,400.8 321.4,400.8 321.7,400.8 322.0,400.9 322.2,400.9 322.5,400.9 322.8,401.0 323.1,401.0 323.4,401.0 323.7,401.0 324.0,401.0 324.3,401.1 324.6,401.1 324.9,401.1 325.1,401.1 325.4,401.1 325.7,401.1 326.0,401.1 326.3,401.2 326.6,401.2 326.9,401.2 327.2,401.2 327.5,401.2 327.8,401.2 328.0,401.2 328.3,401.2 328.6,401.2 328.9,401.2 329.2,401.2 329.5,401.2 329.8,401.2 330.1,401.2 330.4,401.2 330.7,401.2 330.9,401.2 331.2,401.2 331.5,401.2 331.8,401.2 332.1,401.2 332.4,401.2 332.7,401.1 333.0,401.1 333.3,401.1 333.6,401.1 333.8,401.1 334.1,401.1 334.4,401.1 334.7,401.0 335.0,401.0 335.3,401.0 335.6,401.0 335.9,401.0 336.2,400.9 336.5,400.9 336.7,400.9 337.0,400.8 337.3,400.8 337.6,400.7 337.9,400.7 338.2,400.6 338.5,400.6 338.8,400.5 339.1,400.5 339.4,400.4 339.6,400.3 339.9,400.2 340.2,400.1 340.5,400.0 340.8,399.9 341.1,399.8 341.4,399.6 341.7,399.5 342.0,399.3 342.3,399.1 342.5,398.8 342.8,398.6 343.1,398.3 343.4,397.9 343.7,397.5 344.0,397.1 344.3,396.5 344.6,395.9 344.9,395.2 345.2,394.3 345.4,393.2 345.7,391.8 346.0,390.2 346.3,388.2 346.6,385.6 346.9,382.2 347.2,377.8 347.5,371.8 347.8,363.4 348.1,350.8 348.4,331.2 348.6,302.2 348.9,277.1 349.2,280.0 349.5,294.7 349.8,312.7 350.1,328.7 350.4,341.5 350.7,351.4 351.0,359.0 351.3,365.1 351.5,369.9 351.8,373.9 352.1,377.2 352.4,380.0 352.7,382.3 353.0,384.3 353.3,386.1 353.6,387.5 353.9,388.9 354.2,390.0 354.4,391.0 354.7,391.9 355.0,392.7 355.3,393.4 355.6,394.0 355.9,394.6 356.2,395.1 356.5,395.5 356.8,395.9 357.1,396.3 357.3,396.7 357.6,397.0 357.9,397.3 358.2,397.5 358.5,397.8 358.8,398.0 359.1,398.2 359.4,398.4 359.7,398.6 360.0,398.7 360.2,398.9 360.5,399.0 360.8,399.1 361.1,399.3 361.4,399.4 361.7,399.5 362.0,399.6 362.3,399.7 362.6,399.8 362.9,399.8 363.1,399.9 363.4,400.0 363.7,400.1 364.0,400.1 364.3,400.2 364.6,400.3 364.9,400.3 365.2,400.4 365.5,400.4 365.8,400.5 366.0,400.5 366.3,400.6 366.6,400.6 366.9,400.6 367.2,400.7 367.5,400.7 367.8,400.7 368.1,400.8 368.4,400.8 368.7,400.8 368.9,400.9 369.2,400.9 369.5,400.9 369.8,400.9 370.1,401.0 370.4,401.0 370.7,401.0 371.0,401.0 371.3,401.0 371.6,401.1 371.8,401.1 372.1,401.1 372.4,401.1 372.7,401.1 373.0,401.1 373.3,401.2 373.6,401.2 373.9,401.2 374.2,401.2 374.5,401.2 374.7,401.2 375.0,401.2 375.3,401.2 375.6,401.2 375.9,401.2 376.2,401.3 376.5,401.3 376.8,401.3 377.1,401.3 377.4,401.3 377.7,401.3 377.9,401.3 378.2,401.3 378.5,401.3 378.8,401.3 379.1,401.3 379.4,401.3 379.7,401.2 380.0,401.2 380.3,401.2 380.6,401.2 380.8,401.2 381.1,401.1 381.4,401.1 381.7,401.1 382.0,401.0 382.3,401.0 382.6,400.9 382.9,400.8 383.2,400.8 383.5,400.7 383.7,400.7 384.0,400.8 384.3,400.8 384.6,400.8 384.9,400.9 385.2,400.9 385.5,400.9 385.8,401.0 386.1,401.0 386.4,401.1 386.6,401.1 386.9,401.1 387.2,401.2 387.5,401.2 387.8,401.2 388.1,401.2 388.4,401.3 388.7,401.3 389.0,401.3 389.3,401.3 389.5,401.3 389.8,401.3 390.1,401.4 390.4,401.4 390.7,401.4 391.0,401.4 391.3,401.4 391.6,401.4 391.9,401.4 392.2,401.4 392.4,401.4 392.7,401.4 393.0,401.4 393.3,401.4 393.6,401.4 393.9,401.4 394.2,401.4 394.5,401.4 394.8,401.4 395.1,401.4 395.3,401.4 395.6,401.4 395.9,401.4 396.2,401.4 396.5,401.4 396.8,401.4 397.1,401.4 397.4,401.4 397.7,401.4 398.0,401.4 398.2,401.3 398.5,401.3 398.8,401.3 399.1,401.3 399.4,401.3 399.7,401.2 400.0,401.2 400.3,401.1 400.6,401.1 400.9,401.0 401.1,401.0 401.4,400.9 401.7,400.8 402.0,400.7 402.3,400.6 402.6,400.4 402.9,400.3 403.2,400.1 403.5,399.9 403.8,399.7 404.0,399.6 404.3,399.6 404.6,399.6 404.9,399.6 405.2,399.7 405.5,399.8 405.8,399.9 406.1,400.0 406.4,400.1 406.7,400.2 407.0,400.3 407.2,400.4 407.5,400.5 407.8,400.6 408.1,400.6 408.4,400.7 408.7,400.8 409.0,400.8 409.3,400.9 409.6,401.0 409.9,401.0 410.1,401.0 410.4,401.1 410.7,401.1 411.0,401.2 411.3,401.2 411.6,401.2 411.9,401.2 412.2,401.3 412.5,401.3 412.8,401.3 413.0,401.3 413.3,401.4 413.6,401.4 413.9,401.4 414.2,401.4 414.5,401.4 414.8,401.4 415.1,401.5 415.4,401.5 415.7,401.5 415.9,401.5 416.2,401.5 416.5,401.5 416.8,401.5 417.1,401.6 417.4,401.6 417.7,401.6 418.0,401.6 418.3,401.6 418.6,401.6 418.8,401.6 419.1,401.6 419.4,401.6 419.7,401.6 420.0,401.6 420.3,401.6 420.6,401.6 420.9,401.7 421.2,401.7 421.5,401.7 421.7,401.7 422.0,401.7 422.3,401.7 422.6,401.7 422.9,401.7 423.2,401.7 423.5,401.7 423.8,401.7 424.1,401.7 424.4,401.7 424.6,401.7 424.9,401.7 425.2,401.7 425.5,401.7 425.8,401.7 426.1,401.7 426.4,401.7 426.7,401.7 427.0,401.7 427.3,401.7 427.5,401.7 427.8,401.7 428.1,401.7 428.4,401.7 428.7,401.7 429.0,401.7 429.3,401.7 429.6,401.7 429.9,401.7 430.2,401.7 430.4,401.7 430.7,401.7 431.0,401.7 431.3,401.7 431.6,401.7 431.9,401.7 432.2,401.7 432.5,401.7 432.8,401.7 433.1,401.7 433.3,401.7 433.6,401.7 433.9,401.7 434.2,401.7 434.5,401.7 434.8,401.7 435.1,401.7 435.4,401.7 435.7,401.7 436.0,401.6 436.3,401.6 436.5,401.6 436.8,401.6 437.1,401.6 437.4,401.6 437.7,401.6 438.0,401.6 438.3,401.5 438.6,401.5 438.9,401.5 439.2,401.5 439.4,401.4 439.7,401.4 440.0,401.4 440.3,401.3 440.6,401.3 440.9,401.3 441.2,401.2 441.5,401.2 441.8,401.1 442.1,401.0 442.3,401.0 442.6,400.9 442.9,400.8 443.2,400.6 443.5,400.5 443.8,400.3 444.1,400.1 444.4,399.9 444.7,399.7 445.0,399.5 445.2,399.4 445.5,399.3 445.8,399.3 446.1,399.3 446.4,399.4 446.7,399.5 447.0,399.6 447.3,399.7 447.6,399.8 447.9,399.9 448.1,400.0 448.4,400.1 448.7,400.2 449.0,400.3 449.3,400.4 449.6,400.5 449.9,400.5 450.2,400.6 450.5,400.7 450.8,400.7 451.0,400.8 451.3,400.8 451.6,400.9 451.9,400.9 452.2,401.0 452.5,401.0 452.8,401.1 453.1,401.1 453.4,401.1 453.7,401.2 453.9,401.2 454.2,401.2 454.5,401.2 454.8,401.3 455.1,401.3 455.4,401.3 455.7,401.3 456.0,401.3 456.3,401.3 456.6,401.4 456.8,401.4 457.1,401.4 457.4,401.4 457.7,401.4 458.0,401.4 458.3,401.4 458.6,401.4 458.9,401.5 459.2,401.5 459.5,401.5 459.7,401.5 460.0,401.5 460.3,401.5 460.6,401.5 460.9,401.5 461.2,401.5 461.5,401.5 461.8,401.5 462.1,401.5 462.4,401.5 462.6,401.5 462.9,401.5 463.2,401.5 463.5,401.5 463.8,401.5 464.1,401.5 464.4,401.5 464.7,401.5 465.0,401.5 465.3,401.4 465.6,401.4 465.8,401.4 466.1,401.4 466.4,401.4 466.7,401.4 467.0,401.4 467.3,401.4 467.6,401.3 467.9,401.3 468.2,401.3 468.5,401.3 468.7,401.2 469.0,401.2 469.3,401.2 469.6,401.1 469.9,401.1 470.2,401.1 470.5,401.0 470.8,401.0 471.1,400.9 471.4,400.8 471.6,400.8 471.9,400.7 472.2,400.6 472.5,400.5 472.8,400.4 473.1,400.3 473.4,400.1 473.7,400.0 474.0,399.8 474.3,399.6 474.5,399.3 474.8,399.1 475.1,398.7 475.4,398.3 475.7,397.9 476.0,397.3 476.3,396.6 476.6,395.7 476.9,394.6 477.2,393.2 477.4,391.2 477.7,388.6 478.0,384.9 478.3,379.2 478.6,370.3 478.9,358.7 479.2,354.5 479.5,356.9 479.8,361.3 480.1,365.7 480.3,368.9 480.6,370.4 480.9,370.2 481.2,369.4 481.5,369.9 481.8,370.4 482.1,370.1 482.4,368.2 482.7,363.7 483.0,355.0 483.2,344.3 483.5,343.4 483.8,348.6 484.1,355.6 484.4,362.6 484.7,368.5 485.0,373.2 485.3,377.1 485.6,380.1 485.9,382.6 486.1,384.7 486.4,386.4 486.7,387.8 487.0,389.1 487.3,390.1 487.6,391.0 487.9,391.8 488.2,392.5 488.5,393.0 488.8,393.5 489.0,393.9 489.3,394.2 489.6,394.4 489.9,394.5 490.2,394.5 490.5,394.4 490.8,394.2 491.1,393.8 491.4,393.2 491.7,392.2 492.0,390.8 492.2,388.7 492.5,385.4 492.8,380.0 493.1,372.0 493.4,366.9 493.7,368.5 494.0,372.2 494.3,376.6 494.6,380.5 494.9,383.7 495.1,386.3 495.4,388.3 495.7,390.0 496.0,391.4 496.3,392.5 496.6,393.4 496.9,394.3 497.2,395.0 497.5,395.6 497.8,396.1 498.0,396.6 498.3,397.0 498.6,397.4 498.9,397.7 499.2,398.0 499.5,398.3 499.8,398.5 500.1,398.7 500.4,398.9 500.7,399.1 500.9,399.3 501.2,399.4 501.5,399.6 501.8,399.7 502.1,399.8 502.4,399.9 502.7,400.0 503.0,400.1 503.3,400.2 503.6,400.3 503.8,400.4 504.1,400.4 504.4,400.5 504.7,400.6 505.0,400.6 505.3,400.7 505.6,400.8 505.9,400.8 506.2,400.9 506.5,400.9 506.7,401.0 507.0,401.0 507.3,401.0 507.6,401.1 507.9,401.1 508.2,401.1 508.5,401.2 508.8,401.2 509.1,401.2 509.4,401.3 509.6,401.3 509.9,401.3 510.2,401.4 510.5,401.4 510.8,401.4 511.1,401.4 511.4,401.4 511.7,401.5 512.0,401.5 512.3,401.5 512.5,401.5 512.8,401.6 513.1,401.6 513.4,401.6 513.7,401.6 514.0,401.6 514.3,401.6 514.6,401.7 514.9,401.7 515.2,401.7 515.4,401.7 515.7,401.7 516.0,401.7 516.3,401.7 516.6,401.7 516.9,401.8 517.2,401.8 517.5,401.8 517.8,401.8 518.1,401.8 518.3,401.8 518.6,401.8 518.9,401.8 519.2,401.8 519.5,401.9 519.8,401.9 520.1,401.9 520.4,401.9 520.7,401.9 521.0,401.9 521.3,401.9 521.5,401.9 521.8,401.9 522.1,401.9 522.4,401.9 522.7,401.9 523.0,402.0 523.3,402.0 523.6,402.0 523.9,402.0 524.2,402.0 524.4,402.0 524.7,402.0 525.0,402.0 525.3,402.0 525.6,402.0 525.9,402.0 526.2,402.0 526.5,402.0 526.8,402.0 527.1,402.0 527.3,402.0 527.6,402.0 527.9,402.0 528.2,402.1 528.5,402.1 528.8,402.1 529.1,402.1 529.4,402.1 529.7,402.1 530.0,402.1 530.2,402.1 530.5,402.1 530.8,402.1 531.1,402.1 531.4,402.1 531.7,402.1 532.0,402.1 532.3,402.1 532.6,402.1 532.9,402.1 533.1,402.1 533.4,402.1 533.7,402.1 534.0,402.1 534.3,402.1 534.6,402.1 534.9,402.1 535.2,402.1 535.5,402.1 535.8,402.1 536.0,402.1 536.3,402.1 536.6,402.1 536.9,402.1 537.2,402.1 537.5,402.1 537.8,402.1 538.1,402.1 538.4,402.1 538.7,402.1 538.9,402.1 539.2,402.1 539.5,402.1 539.8,402.1 540.1,402.1 540.4,402.1 540.7,402.1 541.0,402.1 541.3,402.1 541.6,402.1 541.8,402.1 542.1,402.0 542.4,402.0 542.7,402.0 543.0,402.0 543.3,402.0 543.6,402.0 543.9,402.0 544.2,401.9 544.5,401.9 544.7,401.9 545.0,401.9 545.3,401.8 545.6,401.8 545.9,401.8 546.2,401.7 546.5,401.7 546.8,401.6 547.1,401.6 547.4,401.5 547.6,401.4 547.9,401.4 548.2,401.3 548.5,401.1 548.8,401.0 549.1,400.8 549.4,400.7 549.7,400.5 550.0,400.3 550.3,400.1 550.6,399.9 550.8,399.8 551.1,399.8 551.4,399.8 551.7,399.9 552.0,399.9 552.3,400.0 552.6,400.1 552.9,400.2 553.2,400.3 553.5,400.4 553.7,400.5 554.0,400.6 554.3,400.7 554.6,400.8 554.9,400.8 555.2,400.9 555.5,401.0 555.8,401.1 556.1,401.1 556.4,401.2 556.6,401.3 556.9,401.3 557.2,401.4 557.5,401.4 557.8,401.5 558.1,401.5 558.4,401.5 558.7,401.6 559.0,401.6 559.3,401.6 559.5,401.7 559.8,401.7 560.1,401.7 560.4,401.8 560.7,401.8 561.0,401.8 561.3,401.8 561.6,401.8 561.9,401.9 562.2,401.9 562.4,401.9 562.7,401.9 563.0,401.9 563.3,401.9 563.6,402.0 563.9,402.0 564.2,402.0 564.5,402.0 564.8,402.0 565.1,402.0 565.3,402.0 565.6,402.0 565.9,402.0 566.2,402.0 566.5,402.0 566.8,402.0 567.1,402.0 567.4,402.0 567.7,402.0 568.0,402.0 568.2,402.0 568.5,402.0 568.8,402.0 569.1,402.0 569.4,402.0 569.7,402.0 570.0,402.0 570.3,402.0 570.6,402.0 570.9,402.0 571.1,402.0 571.4,401.9 571.7,401.9 572.0,401.9 572.3,401.9 572.6,401.8 572.9,401.8 573.2,401.8 573.5,401.7 573.8,401.7 574.0,401.6 574.3,401.5 574.6,401.4 574.9,401.3 575.2,401.2 575.5,401.1 575.8,400.9 576.1,400.8 576.4,400.5 576.7,400.3 576.9,400.0 577.2,399.6 577.5,399.1 577.8,398.5 578.1,397.8 578.4,396.8 578.7,395.6 579.0,393.8 579.3,391.4 579.6,387.8 579.9,382.8 580.1,378.0 580.4,377.2 580.7,378.4 581.0,380.5 581.3,382.9 581.6,385.3 581.9,387.5 582.2,389.3 582.5,390.9 582.8,392.2 583.0,393.3 583.3,394.3 583.6,395.1 583.9,395.8 584.2,396.4 584.5,396.9 584.8,397.4 585.1,397.8 585.4,398.2 585.7,398.5 585.9,398.8 586.2,399.1 586.5,399.3 586.8,399.6 587.1,399.8 587.4,400.0 587.7,400.1 588.0,400.3 588.3,400.4 588.6,400.6 588.8,400.7 589.1,400.8 589.4,400.9 589.7,401.0 590.0,401.1 590.3,401.2 590.6,401.2 590.9,401.3 591.2,401.4 591.5,401.5 591.7,401.5 592.0,401.6 592.3,401.6 592.6,401.7 592.9,401.7 593.2,401.8 593.5,401.8 593.8,401.9 594.1,401.9 594.4,401.9 594.6,402.0 594.9,402.0 595.2,402.0 595.5,402.1 595.8,402.1 596.1,402.1 596.4,402.1 596.7,402.2 597.0,402.2 597.3,402.2 597.5,402.2 597.8,402.3 598.1,402.3 598.4,402.3 598.7,402.3 599.0,402.3 599.3,402.3 599.6,402.4 599.9,402.4 600.2,402.4 600.4,402.4 600.7,402.4 601.0,402.4 601.3,402.5 601.6,402.5 601.9,402.5 602.2,402.5 602.5,402.5 602.8,402.5 603.1,402.5 603.3,402.5 603.6,402.5 603.9,402.6 604.2,402.6 604.5,402.6 604.8,402.6 605.1,402.6 605.4,402.6 605.7,402.6 606.0,402.6 606.2,402.6 606.5,402.6 606.8,402.7 607.1,402.7 607.4,402.7 607.7,402.7" fill="none" stroke="#ff0000" stroke-width="1.7" stroke-linejoin="round"/>
<!-- difference -->
<polyline points="27.7,454.8 28.1,454.7 28.6,454.8 29.0,454.9 29.4,454.9 29.9,454.8 30.3,454.6 30.7,454.5 31.2,454.7 31.6,455.0 32.0,455.1 32.5,455.2 32.9,455.2 33.3,455.3 33.8,455.4 34.2,455.5 34.7,455.5 35.1,455.6 35.5,455.5 36.0,455.2 36.4,454.7 36.8,454.5 37.3,454.7 37.7,454.8 38.1,455.0 38.6,454.8 39.0,454.6 39.4,454.6 39.9,454.7 40.3,455.0 40.7,455.2 41.2,455.1 41.6,455.0 42.0,455.1 42.5,455.1 42.9,455.0 43.4,454.8 43.8,454.7 44.2,454.7 44.7,454.9 45.1,455.0 45.5,455.0 46.0,455.0 46.4,455.1 46.8,455.2 47.3,455.2 47.7,454.8 48.1,454.7 48.6,454.5 49.0,454.7 49.4,454.7 49.9,454.4 50.3,454.4 50.8,454.3 51.2,454.6 51.6,454.8 52.1,455.0 52.5,455.2 52.9,455.0 53.4,454.7 53.8,454.3 54.2,454.2 54.7,454.4 55.1,454.3 55.5,454.2 56.0,454.1 56.4,454.5 56.8,454.9 57.3,455.3 57.7,455.5 58.1,455.5 58.6,455.4 59.0,455.2 59.5,455.0 59.9,454.7 60.3,454.4 60.8,454.3 61.2,454.2 61.6,454.5 62.1,454.8 62.5,454.8 62.9,454.9 63.4,454.9 63.8,455.1 64.2,455.2 64.7,454.9 65.1,454.7 65.5,454.6 66.0,454.8 66.4,455.1 66.9,455.3 67.3,455.1 67.7,454.6 68.2,454.2 68.6,454.2 69.0,454.5 69.5,454.8 69.9,454.7 70.3,454.6 70.8,454.6 71.2,454.5 71.6,454.7 72.1,454.8 72.5,455.1 72.9,455.3 73.4,455.4 73.8,455.3 74.2,455.2 74.7,455.1 75.1,454.9 75.6,455.0 76.0,455.0 76.4,455.2 76.9,455.2 77.3,454.7 77.7,454.4 78.2,454.3 78.6,454.4 79.0,454.7 79.5,454.7 79.9,454.7 80.3,455.1 80.8,454.9 81.2,454.7 81.6,454.5 82.1,454.4 82.5,454.8 83.0,454.9 83.4,455.0 83.8,455.5 84.3,456.1 84.7,456.9 85.1,456.8 85.6,455.9 86.0,454.8 86.4,454.5 86.9,454.5 87.3,454.8 87.7,455.3 88.2,455.2 88.6,455.1 89.0,454.8 89.5,454.7 89.9,454.9 90.4,455.0 90.8,455.1 91.2,455.1 91.7,454.9 92.1,454.7 92.5,454.7 93.0,454.8 93.4,454.9 93.8,455.0 94.3,454.8 94.7,454.3 95.1,454.1 95.6,454.1 96.0,454.4 96.4,454.8 96.9,455.1 97.3,455.2 97.7,455.3 98.2,455.2 98.6,455.0 99.1,454.8 99.5,454.8 99.9,455.0 100.4,454.9 100.8,454.7 101.2,454.4 101.7,454.1 102.1,454.1 102.5,454.2 103.0,454.4 103.4,454.2 103.8,454.4 104.3,454.3 104.7,454.3 105.1,454.4 105.6,454.2 106.0,454.3 106.5,454.5 106.9,454.6 107.3,454.8 107.8,455.0 108.2,455.1 108.6,455.1 109.1,455.0 109.5,454.8 109.9,454.9 110.4,454.7 110.8,454.5 111.2,454.3 111.7,454.3 112.1,454.6 112.5,454.7 113.0,454.7 113.4,454.8 113.8,454.9 114.3,454.6 114.7,454.6 115.2,454.4 115.6,454.6 116.0,454.8 116.5,454.5 116.9,454.7 117.3,454.8 117.8,454.6 118.2,454.7 118.6,454.6 119.1,454.7 119.5,454.9 119.9,454.7 120.4,454.7 120.8,454.6 121.2,454.8 121.7,454.9 122.1,454.8 122.6,455.1 123.0,455.2 123.4,455.4 123.9,455.3 124.3,454.9 124.7,454.9 125.2,454.9 125.6,454.8 126.0,454.8 126.5,454.5 126.9,454.3 127.3,454.6 127.8,454.7 128.2,454.8 128.6,454.6 129.1,454.4 129.5,454.4 129.9,454.5 130.4,454.6 130.8,454.3 131.3,454.0 131.7,454.0 132.1,454.1 132.6,454.4 133.0,454.3 133.4,454.3 133.9,454.5 134.3,454.7 134.7,455.1 135.2,455.3 135.6,455.2 136.0,455.1 136.5,454.8 136.9,454.5 137.3,454.4 137.8,454.2 138.2,454.0 138.7,453.9 139.1,453.9 139.5,453.8 140.0,453.9 140.4,454.0 140.8,454.0 141.3,454.2 141.7,454.5 142.1,454.7 142.6,454.9 143.0,455.1 143.4,455.3 143.9,455.7 144.3,456.0 144.7,456.2 145.2,456.5 145.6,456.8 146.0,457.2 146.5,457.5 146.9,457.5 147.4,457.7 147.8,457.7 148.2,457.7 148.7,457.7 149.1,457.4 149.5,457.2 150.0,456.8 150.4,456.6 150.8,456.5 151.3,456.4 151.7,456.2 152.1,455.8 152.6,455.5 153.0,455.1 153.4,454.8 153.9,454.5 154.3,454.3 154.8,454.2 155.2,454.1 155.6,453.9 156.1,453.8 156.5,453.7 156.9,453.9 157.4,454.3 157.8,454.3 158.2,454.2 158.7,454.3 159.1,454.3 159.5,454.4 160.0,454.5 160.4,454.4 160.8,454.6 161.3,454.9 161.7,455.0 162.1,454.8 162.6,454.6 163.0,454.6 163.5,454.7 163.9,455.0 164.3,454.9 164.8,454.7 165.2,454.4 165.6,454.3 166.1,454.2 166.5,454.3 166.9,454.4 167.4,454.7 167.8,454.9 168.2,455.0 168.7,455.0 169.1,455.1 169.5,455.1 170.0,455.1 170.4,455.0 170.9,454.9 171.3,455.0 171.7,454.9 172.2,454.9 172.6,455.1 173.0,455.1 173.5,455.0 173.9,454.9 174.3,454.9 174.8,455.0 175.2,455.1 175.6,454.9 176.1,454.8 176.5,454.6 176.9,454.5 177.4,454.6 177.8,454.5 178.3,454.8 178.7,455.2 179.1,455.4 179.6,455.5 180.0,455.3 180.4,455.1 180.9,455.0 181.3,455.1 181.7,455.1 182.2,455.2 182.6,455.3 183.0,455.1 183.5,455.3 183.9,455.3 184.3,455.4 184.8,455.3 185.2,455.1 185.6,454.8 186.1,454.7 186.5,454.9 187.0,455.1 187.4,455.2 187.8,455.2 188.3,455.0 188.7,454.9 189.1,455.0 189.6,454.8 190.0,454.8 190.4,454.6 190.9,454.4 191.3,454.4 191.7,454.4 192.2,454.3 192.6,454.4 193.0,454.3 193.5,454.4 193.9,454.5 194.4,454.7 194.8,455.0 195.2,454.9 195.7,455.0 196.1,454.8 196.5,454.8 197.0,454.7 197.4,454.9 197.8,455.1 198.3,455.1 198.7,455.0 199.1,454.8 199.6,455.1 200.0,455.2 200.4,455.2 200.9,455.0 201.3,454.9 201.7,455.0 202.2,454.9 202.6,454.8 203.1,454.7 203.5,454.9 203.9,454.7 204.4,454.7 204.8,454.7 205.2,454.8 205.7,455.2 206.1,455.0 206.5,454.6 207.0,454.5 207.4,454.7 207.8,454.9 208.3,454.8 208.7,454.5 209.1,454.2 209.6,454.4 210.0,454.7 210.5,455.0 210.9,455.3 211.3,455.2 211.8,455.1 212.2,454.7 212.6,454.4 213.1,454.6 213.5,454.5 213.9,454.6 214.4,454.4 214.8,454.5 215.2,454.7 215.7,454.7 216.1,454.7 216.5,454.7 217.0,454.7 217.4,454.8 217.8,454.8 218.3,454.9 218.7,455.1 219.2,455.1 219.6,454.9 220.0,454.7 220.5,454.5 220.9,454.6 221.3,454.8 221.8,454.8 222.2,454.7 222.6,454.4 223.1,454.5 223.5,454.8 223.9,454.8 224.4,455.0 224.8,455.2 225.2,455.1 225.7,455.2 226.1,455.0 226.6,455.0 227.0,455.3 227.4,455.4 227.9,455.4 228.3,455.2 228.7,455.2 229.2,455.1 229.6,455.2 230.0,455.3 230.5,455.0 230.9,455.0 231.3,455.0 231.8,454.8 232.2,454.9 232.6,454.8 233.1,454.7 233.5,454.7 233.9,454.6 234.4,454.5 234.8,454.6 235.3,454.7 235.7,454.7 236.1,454.9 236.6,454.7 237.0,454.6 237.4,454.5 237.9,454.3 238.3,454.3 238.7,454.4 239.2,454.5 239.6,454.9 240.0,454.8 240.5,454.6 240.9,454.6 241.3,454.6 241.8,454.8 242.2,454.9 242.7,454.9 243.1,454.9 243.5,455.1 244.0,455.2 244.4,455.2 244.8,455.2 245.3,454.9 245.7,455.0 246.1,454.9 246.6,454.9 247.0,454.9 247.4,455.0 247.9,455.3 248.3,455.3 248.7,455.2 249.2,455.0 249.6,454.8 250.1,454.6 250.5,454.3 250.9,454.3 251.4,454.6 251.8,454.7 252.2,454.8 252.7,454.6 253.1,454.4 253.5,454.4 254.0,454.4 254.4,454.4 254.8,454.3 255.3,454.5 255.7,454.5 256.1,454.6 256.6,454.6 257.0,454.6 257.4,454.5 257.9,454.5 258.3,454.5 258.8,454.5 259.2,454.7 259.6,454.5 260.1,454.5 260.5,454.7 260.9,454.9 261.4,455.2 261.8,454.9 262.2,454.5 262.7,454.3 263.1,454.5 263.5,454.7 264.0,454.7 264.4,454.5 264.8,454.4 265.3,454.5 265.7,454.6 266.2,454.8 266.6,454.9 267.0,455.0 267.5,455.2 267.9,455.2 268.3,455.1 268.8,454.9 269.2,454.9 269.6,454.9 270.1,454.8 270.5,454.5 270.9,454.3 271.4,454.4 271.8,454.4 272.2,454.6 272.7,454.8 273.1,454.8 273.5,454.9 274.0,454.7 274.4,454.6 274.9,454.6 275.3,454.7 275.7,454.8 276.2,454.9 276.6,455.0 277.0,455.0 277.5,455.1 277.9,455.0 278.3,455.0 278.8,454.8 279.2,454.4 279.6,454.3 280.1,454.3 280.5,454.3 280.9,454.4 281.4,454.4 281.8,454.5 282.3,454.7 282.7,454.5 283.1,454.5 283.6,454.3 284.0,454.4 284.4,454.5 284.9,454.7 285.3,454.7 285.7,454.6 286.2,454.7 286.6,454.6 287.0,454.5 287.5,454.5 287.9,454.6 288.3,454.8 288.8,454.7 289.2,454.3 289.6,454.1 290.1,454.0 290.5,454.3 291.0,454.8 291.4,455.2 291.8,455.3 292.3,455.6 292.7,455.8 293.1,455.8 293.6,455.6 294.0,455.2 294.4,455.1 294.9,455.1 295.3,455.0 295.7,454.9 296.2,454.8 296.6,454.7 297.0,454.8 297.5,455.0 297.9,455.0 298.4,455.0 298.8,454.8 299.2,454.6 299.7,454.5 300.1,454.6 300.5,454.8 301.0,454.8 301.4,454.6 301.8,454.5 302.3,454.6 302.7,455.0 303.1,455.2 303.6,455.3 304.0,455.2 304.4,455.3 304.9,455.3 305.3,455.1 305.7,455.1 306.2,454.9 306.6,454.8 307.1,454.7 307.5,454.6 307.9,454.6 308.4,454.9 308.8,454.8 309.2,454.6 309.7,454.6 310.1,454.7 310.5,454.8 311.0,454.7 311.4,454.4 311.8,454.2 312.3,454.3 312.7,454.5 313.1,454.9 313.6,455.1 314.0,455.0 314.5,454.6 314.9,454.3 315.3,454.5 315.8,454.9 316.2,455.2 316.6,455.3 317.1,455.2 317.5,455.2 317.9,455.1 318.4,454.9 318.8,454.9 319.2,454.9 319.7,454.9 320.1,454.9 320.5,455.0 321.0,455.3 321.4,455.1 321.8,455.2 322.3,455.1 322.7,454.9 323.2,454.9 323.6,454.7 324.0,454.9 324.5,454.8 324.9,454.6 325.3,454.5 325.8,454.6 326.2,455.1 326.6,455.1 327.1,454.8 327.5,454.4 327.9,454.2 328.4,454.4 328.8,454.7 329.2,454.8 329.7,454.9 330.1,454.9 330.6,454.9 331.0,454.7 331.4,454.7 331.9,454.8 332.3,455.0 332.7,455.2 333.2,455.3 333.6,455.2 334.0,455.1 334.5,455.0 334.9,454.5 335.3,454.5 335.8,454.6 336.2,454.7 336.6,455.0 337.1,455.1 337.5,455.0 338.0,455.0 338.4,455.0 338.8,454.7 339.3,454.6 339.7,454.3 340.1,454.3 340.6,454.4 341.0,454.4 341.4,454.4 341.9,454.3 342.3,454.4 342.7,454.7 343.2,454.9 343.6,455.2 344.0,455.1 344.5,454.8 344.9,454.6 345.3,454.7 345.8,455.0 346.2,455.5 346.7,456.0 347.1,456.3 347.5,456.3 348.0,455.7 348.4,454.7 348.8,453.6 349.3,452.6 349.7,452.2 350.1,451.9 350.6,452.3 351.0,452.8 351.4,453.4 351.9,454.1 352.3,454.5 352.7,454.8 353.2,454.6 353.6,454.6 354.1,454.6 354.5,454.7 354.9,454.7 355.4,454.4 355.8,454.3 356.2,454.4 356.7,454.6 357.1,454.6 357.5,454.4 358.0,454.5 358.4,454.5 358.8,454.5 359.3,453.9 359.7,453.3 360.1,453.0 360.6,452.8 361.0,452.6 361.4,452.3 361.9,452.2 362.3,452.2 362.8,452.5 363.2,452.7 363.6,453.1 364.1,453.5 364.5,453.6 364.9,454.0 365.4,454.1 365.8,454.1 366.2,454.3 366.7,454.4 367.1,454.7 367.5,454.8 368.0,454.7 368.4,454.6 368.8,454.4 369.3,454.6 369.7,454.7 370.2,454.9 370.6,455.0 371.0,454.9 371.5,454.9 371.9,454.6 372.3,454.6 372.8,454.9 373.2,455.0 373.6,455.4 374.1,455.2 374.5,454.6 374.9,454.4 375.4,454.3 375.8,454.6 376.2,454.8 376.7,454.7 377.1,454.5 377.5,454.5 378.0,454.5 378.4,454.7 378.9,454.8 379.3,454.6 379.7,454.6 380.2,454.6 380.6,454.8 381.0,455.0 381.5,455.1 381.9,454.8 382.3,454.8 382.8,454.8 383.2,454.7 383.6,454.7 384.1,454.5 384.5,454.4 384.9,454.3 385.4,454.3 385.8,454.3 386.3,454.3 386.7,454.5 387.1,454.6 387.6,454.7 388.0,454.9 388.4,454.9 388.9,455.3 389.3,455.4 389.7,455.4 390.2,455.1 390.6,455.0 391.0,454.9 391.5,454.7 391.9,454.7 392.3,454.7 392.8,455.0 393.2,455.2 393.6,455.3 394.1,455.2 394.5,455.0 395.0,455.0 395.4,455.1 395.8,455.2 396.3,455.1 396.7,454.7 397.1,454.5 397.6,454.4 398.0,454.7 398.4,455.2 398.9,455.5 399.3,455.4 399.7,455.2 400.2,455.0 400.6,454.9 401.0,455.0 401.5,454.7 401.9,454.7 402.4,454.7 402.8,454.9 403.2,455.0 403.7,454.9 404.1,455.0 404.5,455.2 405.0,455.5 405.4,455.3 405.8,454.8 406.3,454.6 406.7,454.4 407.1,454.5 407.6,454.8 408.0,454.9 408.4,455.0 408.9,455.1 409.3,454.8 409.8,454.8 410.2,454.8 410.6,454.8 411.1,455.0 411.5,454.8 411.9,454.7 412.4,454.7 412.8,454.6 413.2,454.5 413.7,454.8 414.1,454.8 414.5,454.6 415.0,454.3 415.4,454.0 415.8,454.4 416.3,454.8 416.7,455.0 417.1,455.2 417.6,454.9 418.0,454.9 418.5,454.9 418.9,455.1 419.3,455.3 419.8,455.2 420.2,455.1 420.6,455.0 421.1,454.8 421.5,454.8 421.9,454.9 422.4,455.1 422.8,455.1 423.2,454.6 423.7,454.3 424.1,454.3 424.5,454.7 425.0,454.8 425.4,454.8 425.9,454.5 426.3,454.2 426.7,454.0 427.2,453.7 427.6,453.6 428.0,453.3 428.5,453.1 428.9,452.8 429.3,452.8 429.8,452.9 430.2,452.9 430.6,453.1 431.1,453.3 431.5,453.8 431.9,454.2 432.4,454.3 432.8,454.1 433.2,453.9 433.7,453.8 434.1,454.2 434.6,454.5 435.0,454.7 435.4,454.9 435.9,455.0 436.3,455.1 436.7,455.0 437.2,455.0 437.6,454.8 438.0,454.7 438.5,454.5 438.9,454.2 439.3,454.2 439.8,454.1 440.2,454.2 440.6,454.2 441.1,454.3 441.5,454.2 442.0,454.1 442.4,453.9 442.8,454.1 443.3,454.5 443.7,454.8 444.1,454.9 444.6,454.8 445.0,454.9 445.4,454.8 445.9,454.7 446.3,454.8 446.7,454.7 447.2,454.6 447.6,454.6 448.0,454.5 448.5,454.7 448.9,454.7 449.3,454.7 449.8,454.8 450.2,454.9 450.7,455.1 451.1,455.1 451.5,454.9 452.0,454.8 452.4,454.8 452.8,455.3 453.3,455.5 453.7,455.7 454.1,455.5 454.6,454.9 455.0,454.8 455.4,454.6 455.9,454.7 456.3,454.9 456.7,455.0 457.2,455.0 457.6,455.1 458.1,455.0 458.5,454.8 458.9,454.6 459.4,454.5 459.8,454.7 460.2,454.7 460.7,454.8 461.1,454.6 461.5,454.6 462.0,454.6 462.4,454.9 462.8,454.8 463.3,454.8 463.7,454.7 464.1,454.5 464.6,454.5 465.0,454.3 465.4,454.4 465.9,454.4 466.3,454.4 466.8,454.3 467.2,454.4 467.6,454.9 468.1,455.2 468.5,455.2 468.9,455.1 469.4,454.8 469.8,454.9 470.2,455.2 470.7,455.3 471.1,455.4 471.5,455.2 472.0,454.8 472.4,454.3 472.8,453.9 473.3,454.1 473.7,454.5 474.2,455.3 474.6,455.7 475.0,455.6 475.5,455.2 475.9,454.5 476.3,454.1 476.8,453.8 477.2,453.4 477.6,453.0 478.1,453.0 478.5,453.4 478.9,454.1 479.4,454.5 479.8,454.4 480.2,454.2 480.7,454.2 481.1,454.3 481.6,453.8 482.0,452.8 482.4,451.6 482.9,450.9 483.3,451.1 483.7,452.1 484.2,453.6 484.6,455.1 485.0,456.2 485.5,456.8 485.9,456.6 486.3,456.1 486.8,455.5 487.2,455.1 487.6,455.1 488.1,455.0 488.5,455.1 488.9,454.9 489.4,454.7 489.8,454.9 490.3,455.0 490.7,455.2 491.1,455.2 491.6,455.0 492.0,454.5 492.4,453.9 492.9,453.0 493.3,452.3 493.7,451.9 494.2,451.9 494.6,452.4 495.0,453.1 495.5,453.9 495.9,454.6 496.3,455.4 496.8,455.9 497.2,455.9 497.7,455.7 498.1,455.4 498.5,455.2 499.0,454.7 499.4,454.5 499.8,454.4 500.3,454.5 500.7,455.0 501.1,455.1 501.6,455.2 502.0,455.0 502.4,454.7 502.9,454.8 503.3,454.8 503.7,455.0 504.2,455.0 504.6,454.9 505.0,455.0 505.5,455.1 505.9,455.0 506.4,454.6 506.8,454.3 507.2,454.2 507.7,454.3 508.1,454.4 508.5,454.2 509.0,454.1 509.4,454.2 509.8,454.4 510.3,454.6 510.7,454.7 511.1,454.7 511.6,454.8 512.0,455.1 512.4,455.3 512.9,455.6 513.3,455.5 513.8,455.2 514.2,455.2 514.6,455.0 515.1,454.9 515.5,454.7 515.9,454.4 516.4,454.2 516.8,454.3 517.2,454.4 517.7,454.6 518.1,454.6 518.5,454.4 519.0,454.6 519.4,454.8 519.8,455.0 520.3,455.2 520.7,455.1 521.1,455.2 521.6,455.3 522.0,455.2 522.5,455.1 522.9,454.8 523.3,454.9 523.8,455.2 524.2,455.3 524.6,455.2 525.1,455.0 525.5,454.9 525.9,454.7 526.4,454.7 526.8,454.7 527.2,454.7 527.7,454.7 528.1,454.6 528.5,454.6 529.0,454.6 529.4,454.6 529.9,454.7 530.3,454.6 530.7,454.4 531.2,454.4 531.6,454.4 532.0,454.5 532.5,454.4 532.9,454.5 533.3,454.8 533.8,454.9 534.2,454.9 534.6,454.9 535.1,454.9 535.5,455.1 535.9,454.9 536.4,454.6 536.8,454.6 537.2,454.7 537.7,455.0 538.1,454.7 538.6,454.6 539.0,455.0 539.4,455.1 539.9,455.3 540.3,455.1 540.7,455.2 541.2,455.2 541.6,454.9 542.0,454.9 542.5,454.7 542.9,454.8 543.3,454.6 543.8,454.3 544.2,454.4 544.6,454.4 545.1,454.5 545.5,454.6 546.0,454.6 546.4,454.8 546.8,455.0 547.3,454.9 547.7,454.9 548.1,454.8 548.6,454.7 549.0,455.1 549.4,455.2 549.9,455.3 550.3,455.3 550.7,455.1 551.2,454.8 551.6,454.7 552.0,454.6 552.5,454.6 552.9,454.8 553.3,454.8 553.8,455.0 554.2,454.9 554.7,454.7 555.1,454.6 555.5,454.8 556.0,455.0 556.4,455.1 556.8,455.0 557.3,454.8 557.7,454.9 558.1,454.8 558.6,454.7 559.0,454.7 559.4,454.5 559.9,454.7 560.3,454.8 560.7,454.8 561.2,454.9 561.6,455.0 562.1,455.0 562.5,454.8 562.9,454.4 563.4,454.3 563.8,454.2 564.2,454.4 564.7,454.5 565.1,454.5 565.5,454.6 566.0,454.3 566.4,454.2 566.8,454.5 567.3,454.5 567.7,454.8 568.1,454.8 568.6,455.1 569.0,455.3 569.5,455.1 569.9,454.7 570.3,454.3 570.8,454.2 571.2,454.3 571.6,454.3 572.1,454.5 572.5,454.8 572.9,454.8 573.4,454.7 573.8,454.7 574.2,454.8 574.7,454.9 575.1,455.0 575.5,454.9 576.0,454.9 576.4,455.1 576.8,455.2 577.3,455.1 577.7,455.0 578.2,454.8 578.6,454.7 579.0,454.6 579.5,454.3 579.9,454.2 580.3,454.0 580.8,453.8 581.2,453.8 581.6,454.3 582.1,454.9 582.5,455.3 582.9,455.3 583.4,455.4 583.8,455.4 584.2,455.2 584.7,454.9 585.1,454.8 585.6,454.9 586.0,454.9 586.4,455.1 586.9,455.0 587.3,455.0 587.7,454.9 588.2,454.8 588.6,455.0 589.0,455.0 589.5,455.0 589.9,454.9 590.3,454.6 590.8,454.7 591.2,455.0 591.6,455.1 592.1,455.1 592.5,454.6 592.9,454.3 593.4,454.4 593.8,454.5 594.3,454.8 594.7,455.1 595.1,454.8 595.6,454.7 596.0,454.4 596.4,454.3 596.9,454.3 597.3,454.3 597.7,454.2 598.2,454.5 598.6,454.9 599.0,454.9 599.5,454.7 599.9,454.4 600.3,454.3 600.8,454.5 601.2,454.8 601.7,454.7 602.1,454.6 602.5,454.4 603.0,454.4 603.4,454.5 603.8,454.4 604.3,454.4 604.7,454.6 605.1,454.8 605.6,454.6 606.0,454.5 606.4,454.5 606.9,454.6 607.3,454.7" fill="none" stroke="#0000ff" stroke-width="1.6" stroke-linejoin="round"/>
<!-- bragg ticks -->
<path d="M84.8 411.3V420.8M144.8 411.3V420.8M161.0 411.3V420.8M289.5 411.3V420.8M291.2 411.3V420.8M348.0 411.3V420.8M349.7 411.3V420.8M448.5 411.3V420.8M450.3 411.3V420.8M477.4 411.3V420.8M479.5 411.3V420.8M481.6 411.3V420.8M483.7 411.3V420.8M492.2 411.3V420.8M493.9 411.3V420.8M579.4 411.3V420.8M581.5 411.3V420.8" stroke="#b3a952" stroke-width="1.1"/>
<path d="M63.8 423.9V433.8M82.6 423.9V433.8M131.8 423.9V433.8M287.4 423.9V433.8M289.3 423.9V433.8M311.7 423.9V433.8M313.5 423.9V433.8M383.5 423.9V433.8M385.4 423.9V433.8M402.5 423.9V433.8M404.3 423.9V433.8M406.2 423.9V433.8M443.3 423.9V433.8M445.4 423.9V433.8M598.0 423.9V433.8M600.5 423.9V433.8" stroke="#b04fb0" stroke-width="1.1"/>
<path d="M415.0 423.9V433.8M416.3 423.9V433.8M417.6 423.9V433.8M549.6 423.9V433.8M551.0 423.9V433.8M552.4 423.9V433.8" stroke="#b04fb0" stroke-width="1.1" opacity="0.55"/>
<path d="M92.0 437.2V446.6M148.0 437.2V446.6M197.6 437.2V446.6M243.1 437.2V446.6M283.6 437.2V446.6M285.4 437.2V446.6M323.6 437.2V446.6M325.2 437.2V446.6M360.4 437.2V446.6M362.4 437.2V446.6M396.4 437.2V446.6M398.1 437.2V446.6M430.6 437.2V446.6M432.7 437.2V446.6M463.3 437.2V446.6M465.4 437.2V446.6M495.0 437.2V446.6M497.1 437.2V446.6M555.8 437.2V446.6M558.3 437.2V446.6M585.7 437.2V446.6M588.2 437.2V446.6" stroke="#5aa85a" stroke-width="1.1"/>
<!-- frame -->
<rect x="27.5" y="0.6" width="580.2" height="466.8" fill="none" stroke="#000" stroke-width="2.7"/>
<path d="M172.55 467V459.5M317.6 467V459.5M462.65 467V459.5" stroke="#000" stroke-width="2.6"/>
<path d="M100 467V462.5M245.1 467V462.5M390.1 467V462.5M535.2 467V462.5" stroke="#000" stroke-width="2.4"/>
<g font-size="21px" text-anchor="middle"><text x="27.5" y="490.5">20</text><text x="172.3" y="490.5">30</text><text x="317.6" y="490.5">40</text><text x="462.6" y="490.5">50</text><text x="608.3" y="490.5">60</text>
<text x="317.4" y="510.8" font-size="21px" textLength="253.6" lengthAdjust="spacingAndGlyphs">Diffraction angle 2θ (degree)</text>
<text transform="translate(16,228.4) rotate(-90)" font-size="22.5px">Intensity</text></g>
<g font-size="14.5px"><text transform="translate(89.7,361.9) rotate(-90) scale(1,1.1)" text-anchor="middle" fill="#000">(100)</text><text transform="translate(134.2,362.9) rotate(-90) scale(1,1.1)" text-anchor="middle" fill="#0000ff">(012)*</text><text transform="translate(152.7,29.0) rotate(-90) scale(1,1.1)" text-anchor="middle" fill="#000">(101)</text><text transform="translate(168.1,347.9) rotate(-90) scale(1,1.1)" text-anchor="middle" fill="#000">(002)</text><text transform="translate(296.4,261.8) rotate(-90) scale(1,1.1)" text-anchor="middle" fill="#000">(102)</text><text transform="translate(318.4,369.8) rotate(-90) scale(1,1.1)" text-anchor="middle" fill="#0000ff">(110)*</text><text transform="translate(356.4,247.9) rotate(-90) scale(1,1.1)" text-anchor="middle" fill="#000">(110)</text><text transform="translate(473.6,334.6) rotate(-90) scale(1,1.1)" text-anchor="middle" fill="#000">(103)</text><text transform="translate(490.4,305.6) rotate(-90) scale(1,1.1)" text-anchor="middle" fill="#000">(201)</text><text transform="translate(501.4,337.2) rotate(-90) scale(1,1.1)" text-anchor="middle" fill="#000">(112)</text><text transform="translate(587.2,353.2) rotate(-90) scale(1,1.1)" text-anchor="middle" fill="#000">(202)</text></g>
<!-- hexagon -->
<polygon points="176,61.6 198.2,24.7 244.8,24.7 266.7,61.6 244.9,99 198.1,99" fill="#b7b7b7"/>
<polygon points="180,61.6 201.3,28.4 241.6,28.4 262.8,61.6 242.4,95.6 200.5,95.6" fill="#8aa751"/>
<polygon points="201.3,28.4 241.6,28.4 221,58.9" fill="#6d8a3c"/>
<polygon points="200.5,95.6 242.4,95.6 221,58.9" fill="#6d8a3c"/>
<circle cx="221" cy="58.9" r="2" fill="#b4bba0"/>
<g font-size="14px" fill="#f4f4ea"><text x="212.3" y="41.6">110</text><text x="234.2" y="64">101</text></g>
<!-- prism -->
<polygon points="371.1,21.3 415.4,21.3 439.2,34.1 439.2,82.2 415.7,95.9 370.6,95.9 348.4,82.2 348.4,33.8" fill="#8a7d4a"/>
<polygon points="372.5,22.8 413.2,22.8 433,34.6 433,80.6 413.2,93.4 372.5,93.4 353,80.6 353,35" fill="#8aa751"/>
<polygon points="413.2,22.8 433,34.6 433,37 413.2,46.5" fill="#92ae57"/>
<rect x="372.5" y="22.8" width="40.7" height="23.7" fill="#7b9845"/>
<rect x="372.5" y="46.5" width="40.7" height="46.9" fill="#6d8a3c"/>
<polygon points="433,34.6 435.6,35.8 435.6,81.6 433,80.6" fill="#8e8b4e"/>
<g font-size="14px"><text x="384" y="39.7" fill="#c00000">001</text><text x="383.6" y="74.6" fill="#f4f4ea">110</text></g>
<!-- annotations -->
<text x="279.7" y="71.5" font-size="18.4px" fill="#c00000">Bi-layer</text>
<text x="321.3" y="128.5" font-size="18.4px" font-weight="bold" fill="#0000ff" text-anchor="middle" style="filter:drop-shadow(0.6px 0.6px 0.5px rgba(60,60,255,0.55))">Core-shell crystallites</text>
<path d="M293.1 50.5C294.5 38 285 36.5 270 42" fill="none" stroke="#000" stroke-width="1.8" stroke-dasharray="1.8 1.6"/>
<polygon points="263.2,45.7 267.8,39 270.6,46.2" fill="#000"/>
<path d="M309.6 80.6C311 94 325 95 340.5 84.3" fill="none" stroke="#000" stroke-width="1.8" stroke-dasharray="1.8 1.6"/>
<polygon points="344.8,79.2 337.5,81.6 343.2,86.2" fill="#000"/>
<path d="M456.2 63.1C452.5 75 439 77.5 430.3 61.5" fill="none" stroke="#000" stroke-width="1.75"/>
<polygon points="427,56 433.8,59.2 426.4,63.4" fill="#000"/>
<text x="449.8" y="58.5" font-size="16px" textLength="22.4" lengthAdjust="spacingAndGlyphs">101</text>
<!-- legend -->
<circle cx="503.8" cy="29.1" r="4.25" fill="none" stroke="#000" stroke-width="1.7"/>
<path d="M493.2 57.4H513.8" stroke="#ff0000" stroke-width="1.6"/>
<path d="M493.2 86H513.8" stroke="#0000ff" stroke-width="1.8"/>
<path d="M504.1 111V119.4" stroke="#bdb66c" stroke-width="1.3"/>
<path d="M504.1 133.2V142.1" stroke="#c77fc7" stroke-width="1.3"/>
<path d="M504.1 155.9V164.8" stroke="#76bf76" stroke-width="1.3"/>
<g font-size="18px"><text x="518.3" y="35.1">I</text><text x="518.3" y="63.3">I</text><text x="518.3" y="91.8">I</text><text x="554.4" y="91.8">I</text>
<text x="539.6" y="92.5">-</text>
<text x="518.2" y="121.1">MnBi</text><text x="518.2" y="143.8">Bi</text><text x="518.2" y="166.5">Mn</text></g>
<g font-size="10.3px"><text x="524.2" y="42">obs</text><text x="524.6" y="70.5">cal</text><text x="524.2" y="98.8">obs</text><text x="560.2" y="98.8">cal</text></g>
</svg>
</body></html>
